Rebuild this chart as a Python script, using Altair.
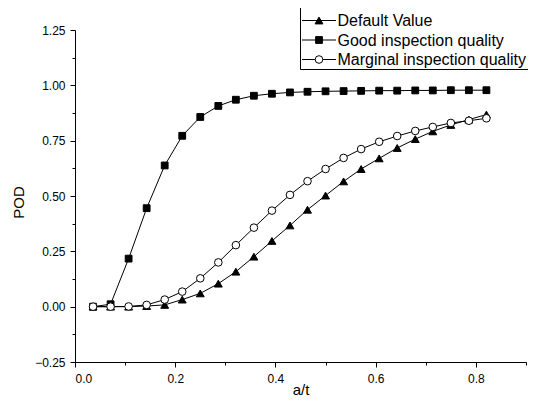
import altair as alt
import pandas as pd

# ---- data ----
a_t = [0.036, 0.071, 0.107, 0.143, 0.179, 0.214, 0.250, 0.286, 0.321, 0.357, 0.393, 0.429,
       0.464, 0.500, 0.536, 0.571, 0.607, 0.643, 0.679, 0.714, 0.750, 0.786, 0.821]
default_pod = [0.0, 0.0, 0.0, 0.003, 0.008, 0.032, 0.060, 0.104, 0.158, 0.226, 0.297, 0.367,
               0.438, 0.502, 0.566, 0.622, 0.670, 0.717, 0.757, 0.792, 0.821, 0.845, 0.868]
good_pod = [0.0, 0.011, 0.217, 0.445, 0.638, 0.772, 0.857, 0.907, 0.935, 0.953, 0.962, 0.968,
            0.971, 0.973, 0.974, 0.975, 0.976, 0.976, 0.977, 0.977, 0.978, 0.978, 0.978]
marginal_pod = [0.0, 0.0, 0.001, 0.008, 0.032, 0.068, 0.128, 0.200, 0.278, 0.357, 0.434, 0.505,
                0.567, 0.622, 0.672, 0.712, 0.745, 0.771, 0.794, 0.812, 0.830, 0.840, 0.851]
series_names = ["Default Value", "Good inspection quality", "Marginal inspection quality"]
x_ticks = [0.0, 0.2, 0.4, 0.6, 0.8]
x_minor = [0.1, 0.3, 0.5, 0.7, 0.9]
y_ticks = [-0.25, 0.0, 0.25, 0.5, 0.75, 1.0, 1.25]
y_minor = [-0.125, 0.125, 0.375, 0.625, 0.875, 1.125]

FONT = "Liberation Sans"
series_vals = [default_pod, good_pod, marginal_pod]
styles = [
    dict(shape="triangle-up", size=62, fill="black"),
    dict(shape="square", size=46, fill="black"),
    dict(shape="circle", size=58, fill="white"),
]

xscale = alt.Scale(domain=[0, 0.9], nice=False, zero=False)
yscale = alt.Scale(domain=[-0.25, 1.25], nice=False, zero=False)

x_axis = alt.Axis(values=x_ticks, format=".1f", title="a/t", tickSize=5, labelPadding=6,
                  orient="bottom", titleX=225.5, titleY=27, titleBaseline="middle",
                  titleFontSize=15, titleFontWeight="normal")
y_axis = alt.Axis(values=y_ticks, format=".2f", title="POD", tickSize=5, labelPadding=5,
                  orient="left", titleX=-57, titleY=172, titleBaseline="middle",
                  titleAngle=270, titleFontSize=15, titleFontWeight="normal")

frames = []
for name, vals in zip(series_names, series_vals):
    frames.append(pd.DataFrame({"series": name, "a_t": a_t, "pod": vals}))

layers = []
# lines first
for i, df in enumerate(frames):
    layers.append(
        alt.Chart(df).mark_line(color="black", strokeWidth=1).encode(
            x=alt.X("a_t:Q", scale=xscale, axis=x_axis),
            y=alt.Y("pod:Q", scale=yscale, axis=y_axis),
        )
    )
# markers
for df, st in zip(frames, styles):
    layers.append(
        alt.Chart(df).mark_point(shape=st["shape"], size=st["size"], fill=st["fill"],
                                 stroke="black", strokeWidth=1, opacity=1, filled=False,
                                 fillOpacity=1).encode(
            x=alt.X("a_t:Q", scale=xscale, axis=x_axis),
            y=alt.Y("pod:Q", scale=yscale, axis=y_axis),
        )
    )

main = alt.layer(*layers)

# minor ticks
minor = alt.Chart(frames[0]).mark_point(opacity=0).encode(
    x=alt.X("a_t:Q", scale=xscale,
            axis=alt.Axis(values=x_minor, labels=False, domain=False, title=None,
                          tickSize=3, orient="bottom")),
    y=alt.Y("pod:Q", scale=yscale,
            axis=alt.Axis(values=y_minor, labels=False, domain=False, title=None,
                          tickSize=3, orient="left")),
)

# legend box
one = pd.DataFrame({"k": [0]})
legend_layers = [
    alt.Chart(one).mark_rect(fill="white", stroke="black", strokeWidth=1).encode(
        x=alt.value(225.5), x2=alt.value(490), y=alt.value(-22.5), y2=alt.value(39.5))
]
row_y = [-9.5, 10.0, 29.5]
for name, st, yy in zip(series_names, styles, row_y):
    legend_layers.append(
        alt.Chart(one).mark_rule(color="black", strokeWidth=1).encode(
            x=alt.value(227), x2=alt.value(261), y=alt.value(yy)))
    legend_layers.append(
        alt.Chart(one).mark_point(shape=st["shape"], size=st["size"], fill=st["fill"],
                                  stroke="black", strokeWidth=1, opacity=1, filled=False,
                                  fillOpacity=1).encode(
            x=alt.value(244), y=alt.value(yy)))
    legend_layers.append(
        alt.Chart(pd.DataFrame({"label": [name]})).mark_text(
            align="left", baseline="middle", font=FONT, fontSize=16, color="black").encode(
            x=alt.value(262.5), y=alt.value(yy + 0.5), text="label:N"))

chart = alt.layer(main, minor, *legend_layers).resolve_axis(
    x="independent", y="independent"
).properties(
    width=451, height=332,
    padding={"left": 67, "top": 22, "right": 2, "bottom": 36},
    autosize=alt.AutoSizeParams(type="none"),
    background="white",
).configure_view(stroke=None).configure_axis(
    grid=False, domainColor="black", tickColor="black", labelColor="black",
    titleColor="black", labelFont=FONT, titleFont=FONT, labelFontSize=12,
    domainWidth=1, tickWidth=1,
)

chart.save("out.html", embed_options={"renderer": "svg", "actions": False})
